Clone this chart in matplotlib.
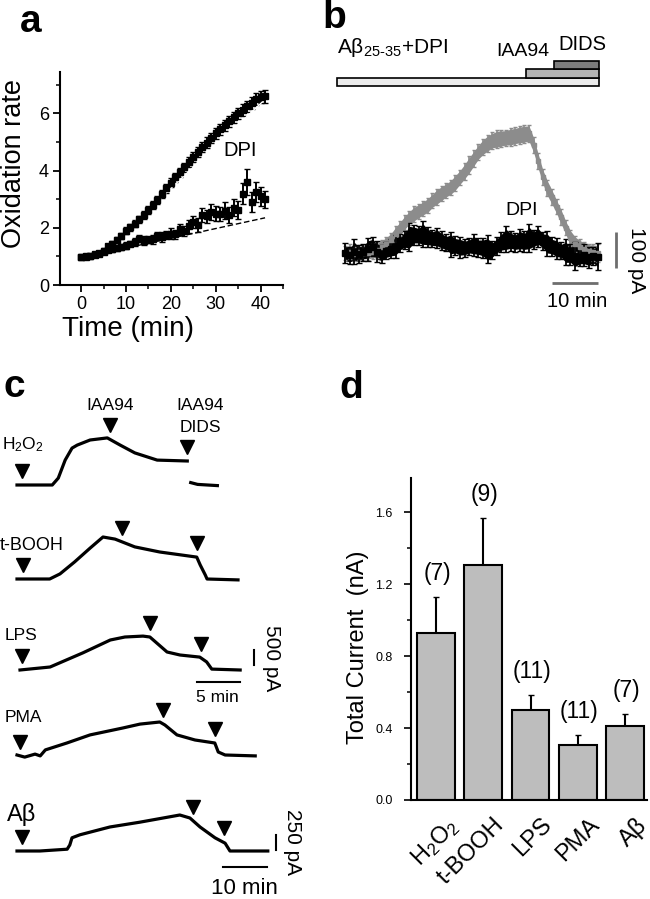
import numpy as np
import matplotlib
matplotlib.use('Agg')
import matplotlib.pyplot as plt
from matplotlib.patches import Rectangle
from matplotlib.ticker import MultipleLocator
from matplotlib.transforms import ScaledTranslation

plt.rcParams['font.family'] = ['Liberation Sans', 'DejaVu Sans']
plt.rcParams['mathtext.fontset'] = 'custom'
plt.rcParams['mathtext.rm'] = 'Liberation Sans'
plt.rcParams['mathtext.it'] = 'Liberation Sans'
plt.rcParams['mathtext.bf'] = 'Liberation Sans:bold'
plt.rcParams['axes.linewidth'] = 1.5

# ---- a: oxidation rate vs time
time_a = [0, 1, 2, 3, 4, 5, 6, 7, 8, 9, 10, 11, 12, 13, 14, 15, 16, 17, 18, 19, 20,
          21, 22, 23, 24, 25, 26, 27, 28, 29, 30, 31, 32, 33, 34, 35, 36, 37, 38, 39, 40, 41]
ox_ctrl = [0.97, 1.0, 1.03, 1.07, 1.12, 1.2, 1.35, 1.45, 1.58, 1.72, 1.9, 2.02, 2.15, 2.3,
           2.45, 2.62, 2.8, 2.98, 3.18, 3.38, 3.58, 3.76, 3.94, 4.12, 4.3, 4.48, 4.65, 4.82,
           4.98, 5.14, 5.3, 5.45, 5.58, 5.72, 5.86, 6.0, 6.12, 6.25, 6.38, 6.5, 6.58, 6.6]
ox_ctrl_err = [0.05, 0.05, 0.06, 0.06, 0.07, 0.08, 0.1, 0.1, 0.1, 0.11, 0.12, 0.12, 0.12,
               0.13, 0.13, 0.13, 0.14, 0.14, 0.14, 0.15, 0.15, 0.15, 0.16, 0.16, 0.16, 0.17,
               0.17, 0.17, 0.18, 0.18, 0.18, 0.19, 0.19, 0.19, 0.2, 0.2, 0.2, 0.2, 0.21, 0.21,
               0.22, 0.22]
ox_dpi = [0.97, 0.98, 1.0, 1.05, 1.08, 1.15, 1.22, 1.25, 1.3, 1.32, 1.38, 1.45, 1.5, 1.62,
          1.55, 1.58, 1.6, 1.72, 1.68, 1.75, 1.8, 1.78, 1.95, 1.9, 2.05, 2.2, 2.1, 2.45, 2.4,
          2.55, 2.5, 2.48, 2.6, 2.45, 2.7, 2.62, 3.2, 3.6, 2.9, 3.25, 3.1, 3.0]
ox_dpi_err = [0.04, 0.05, 0.05, 0.06, 0.07, 0.08, 0.08, 0.09, 0.1, 0.1, 0.12, 0.1, 0.14,
              0.12, 0.15, 0.12, 0.16, 0.14, 0.18, 0.15, 0.2, 0.16, 0.2, 0.18, 0.22, 0.2, 0.24,
              0.25, 0.22, 0.28, 0.25, 0.24, 0.3, 0.28, 0.3, 0.32, 0.38, 0.45, 0.35, 0.35,
              0.32, 0.3]
fit_ctrl_t = [6, 40.5]
fit_ctrl_y = [1.3, 6.42]
fit_dpi_t = [0, 41]
fit_dpi_y = [0.95, 2.35]

# ---- b: whole-cell current, A-beta vs A-beta + DPI
time_b = [0, 1, 2, 3, 4, 5, 6, 7, 8, 9, 10, 11, 12, 13, 14, 15, 16, 17, 18, 19, 20, 21, 22,
          23, 24, 25, 26, 27, 28, 29, 30, 31, 32, 33, 34, 35, 36, 37, 38, 39, 40, 41, 42, 43,
          44, 45, 46, 47, 48, 49, 50, 51, 52, 53, 54, 55]
cur_abeta = [0, 3, -2, 2, 0, 1, 4, 8, 16, 26, 36, 52, 68, 84, 98, 108, 116, 124, 132, 145,
             156, 165, 174, 182, 195, 210, 226, 244, 262, 280, 294, 304, 312, 316, 318, 320,
             322, 325, 328, 330, 332, 300, 255, 212, 180, 155, 128, 100, 70, 42, 26, 17, 10,
             5, 2, 0]
cur_abeta_err = [16, 18, 17, 18, 16, 17, 18, 19, 18, 17, 18, 19, 18, 18, 17, 19, 18, 18, 19,
                 18, 20, 19, 18, 19, 20, 19, 20, 21, 20, 19, 20, 21, 20, 22, 21, 20, 22, 21,
                 22, 22, 21, 20, 20, 19, 20, 19, 18, 19, 18, 20, 19, 18, 19, 18, 20, 21]
cur_dpi = [0, -6, 4, -3, 2, 10, 18, 4, -2, 6, 12, 18, 28, 36, 44, 50, 48, 52, 44, 40, 42, 34,
           28, 24, 20, 16, 14, 18, 22, 16, 14, 10, 8, 20, 30, 38, 34, 30, 36, 32, 42, 38, 46,
           34, 26, 18, 12, 6, 2, -4, -8, -10, -6, -12, -8, -10]
cur_dpi_err = [22, 18, 26, 20, 18, 24, 20, 22, 19, 18, 20, 24, 19, 20, 30, 22, 20, 28, 21, 19,
               22, 20, 18, 26, 20, 22, 19, 18, 24, 20, 22, 30, 20, 19, 22, 28, 21, 20, 24, 22,
               30, 20, 22, 19, 26, 20, 22, 18, 28, 22, 30, 20, 24, 22, 20, 28]
drug_names = ['Aβ$_{25\\text{-}35}$+DPI', 'IAA94', 'DIDS']
drug_start = [-1.7, 39.3, 45.4]
drug_end = [55.2, 55.2, 55.2]
drug_colors = ['#ececec', '#b4b4b4', '#7c7c7c']

# ---- c: example traces (time in min, current in pA)
h2o2_t = [0, 4.1, 4.8, 5.6, 6.4, 7.0, 8.5, 10.5, 12.0, 13.7, 16.3, 19.8]
h2o2_i = [0, 0, 230, 830, 1230, 1330, 1500, 1570, 1330, 1070, 830, 800]
h2o2_after_t = [20.2, 21.0, 23.3]
h2o2_after_i = [80, 20, -20]
h2o2_arrows = [0.6, 10.8, 19.8]

tbooh_t = [0, 3.8, 5.0, 6.7, 8.5, 10.0, 11.4, 13.7, 16.6, 20.9, 21.3, 21.9, 22.1, 25.7]
tbooh_i = [0, 0, 170, 570, 1030, 1400, 1330, 1070, 900, 730, 470, 130, 0, -30]
tbooh_arrows = [0.7, 12.2, 20.9]

lps_t = [0, 3.5, 7.3, 10.5, 12.2, 14.3, 15.1, 17.1, 18.6, 20.9, 21.7, 22.3, 25.6]
lps_i = [0, 100, 570, 1000, 1100, 1130, 1100, 600, 500, 430, 270, 30, 0]
lps_arrows = [0.2, 15.1, 21.0]

pma_t = [0, 0.9, 2.1, 2.7, 3.3, 5.8, 8.5, 12.3, 14.3, 16.6, 17.2, 18.6, 20.7, 23.0, 23.4,
         24.2, 27.7]
pma_i = [0, -70, 30, -30, 170, 400, 670, 900, 1030, 1100, 1000, 670, 500, 400, 100, 0, -30]
pma_arrows = [0.35, 17.0, 23.0]

ab_t = [0, 5.2, 11.4, 12.0, 12.5, 14.3, 21.1, 27.9, 37.0, 39.3, 41.6, 45.0, 47.3, 48.4, 57.0]
ab_i = [0, 0, 30, 100, 220, 270, 400, 480, 600, 550, 400, 220, 130, 0, 0]
ab_arrows = [1.1, 40.0, 47.0]

# ---- d: total current summary
stimuli = ['H$_2$O$_2$', 't-BOOH', 'LPS', 'PMA', 'Aβ']
total_current = [0.93, 1.305, 0.50, 0.304, 0.413]
total_current_sem = [0.20, 0.26, 0.083, 0.057, 0.067]
n_cells = [7, 9, 11, 11, 7]

W, H = 650, 899
fig = plt.figure(figsize=(W / 100, H / 100), dpi=100)


def box(left, top, right, bottom):
    return fig.add_axes([left / W, 1 - bottom / H, (right - left) / W, (bottom - top) / H])


def ftext(x, y, s, **kw):
    fig.text(x / W, 1 - y / H, s, **kw)


# panel letters
for letter, (x, y) in zip('abcd', [(31, 22), (334, 18), (14, 387), (351, 388)]):
    ftext(x, y, letter, fontsize=28, fontweight='bold', ha='center', va='center')

# ---------------- a
ax = box(60, 72, 283, 285)
ax.errorbar(time_a, ox_ctrl, yerr=ox_ctrl_err, fmt='s', ms=5, color='k',
            elinewidth=1.4, capsize=2)
ax.plot(fit_ctrl_t, fit_ctrl_y, color='white', lw=1)
ax.errorbar(time_a, ox_dpi, yerr=ox_dpi_err, fmt='s', ms=5, color='k',
            elinewidth=1.4, capsize=2)
ax.plot(fit_dpi_t, fit_dpi_y, color='k', lw=1, dashes=(4, 2))
ax.set_xlim(-4.7, 45)
ax.set_ylim(0, 7.45)
ax.spines['top'].set_visible(False)
ax.spines['right'].set_visible(False)
ax.set_xticks([0, 10, 20, 30, 40])
ax.set_yticks([0, 2, 4, 6])
ax.xaxis.set_minor_locator(MultipleLocator(5))
ax.yaxis.set_minor_locator(MultipleLocator(1))
ax.tick_params(which='major', direction='out', length=5, width=1.3, labelsize=13, pad=3)
ax.tick_params(which='minor', direction='out', length=3, width=1.1)
ax.set_ylabel('Oxidation rate', fontsize=19.5)
ax.yaxis.set_label_coords(-0.15, 0.57)
ax.set_xlabel('Time (min)', fontsize=20)
ax.xaxis.set_label_coords(0.305, -0.145)
ax.text(35.5, 4.7, 'DPI', fontsize=14.5, ha='center', va='center')

# ---------------- b
x0_b, yb_b, sx_b, sy_b = 345, 253, 4.6, 0.36
axb = box(330, 100, 645, 315)
axb.set_xlim((330 - x0_b) / sx_b, (645 - x0_b) / sx_b)
axb.set_ylim((yb_b - 315) / sy_b, (yb_b - 100) / sy_b)
axb.axis('off')
g = np.array(cur_abeta)
ge = np.array(cur_abeta_err)
axb.fill_between(time_b, g - ge, g + ge, color='#8c8c8c', lw=0)
axb.errorbar(time_b, g, yerr=ge * 1.15, fmt='s', ms=3.5, color='#8c8c8c', elinewidth=1.2,
             capsize=1.5)
k = np.array(cur_dpi)
ke = np.array(cur_dpi_err)
axb.fill_between(time_b, k - ke, k + ke, color='k', lw=0)
axb.errorbar(time_b, k, yerr=ke * 1.3, fmt='s', ms=4, color='k', elinewidth=1.3, capsize=2)
axb.text(38.5, 119, 'DPI', fontsize=14, ha='center', va='center')
# scale bars
axb.plot([45, 55], [-83, -83], color='#6e6e6e', lw=2, solid_capstyle='butt')
axb.text(50.4, -136, '10 min', fontsize=14.5, ha='center', va='center')
axb.plot([58.9, 58.9], [-42, 58], color='#6e6e6e', lw=2, solid_capstyle='butt')
axb.text(63.3, -19, '100 pA', fontsize=15, ha='center', va='center', rotation=-90)

# drug application bars
axd = box(330, 55, 645, 92)
axd.set_xlim(axb.get_xlim())
axd.set_ylim(-0.72, 3.73)
axd.axis('off')
for row, (s, e, c) in enumerate(zip(drug_start, drug_end, drug_colors)):
    axd.add_patch(Rectangle((s, row), e - s, 1, facecolor=c, edgecolor='k', lw=1.2))
axd.text(drug_start[0], 4.6, drug_names[0], fontsize=15, ha='left', va='center')
axd.text(38.7, 4.1, drug_names[1], fontsize=14, ha='center', va='center')
axd.text(51.5, 5.05, drug_names[2], fontsize=14.5, ha='center', va='center')


# ---------------- c
def trace_axes(x0, yb, sx, sy, top, bottom):
    a = box(0, top, 300, bottom)
    a.set_xlim(-x0 / sx, (300 - x0) / sx)
    a.set_ylim((yb - bottom) / sy, (yb - top) / sy)
    a.axis('off')
    return a


def draw_trace(a, t, i, arrows, sy):
    a.plot(t, i, color='k', lw=2.3, solid_joinstyle='round')
    ya = np.interp(arrows, t, i) + 14 / sy
    a.plot(arrows, ya, 'v', color='k', ms=10, clip_on=False)


sx_c, sy_c = 8.6, 0.03
a1 = trace_axes(17, 485, sx_c, sy_c, 420, 495)
draw_trace(a1, h2o2_t, h2o2_i, h2o2_arrows, sy_c)
a1.plot(h2o2_after_t, h2o2_after_i, color='k', lw=2.3)

a2 = trace_axes(17, 579, sx_c, sy_c, 505, 590)
draw_trace(a2, tbooh_t, tbooh_i, tbooh_arrows, sy_c)

a3 = trace_axes(20, 670, sx_c, sy_c, 595, 705)
draw_trace(a3, lps_t, lps_i, lps_arrows, sy_c)
a3.plot([20.6, 25.6], [-400, -400], color='k', lw=1.5, clip_on=False)
a3.text(23.0, -933, '5 min', fontsize=12.5, ha='center', va='center')
a3.plot([27.2, 27.2], [167, 667], color='k', lw=1.5, clip_on=False)
a3.text(29.3, 400, '500 pA', fontsize=15, ha='center', va='center', rotation=-90)

a4 = trace_axes(17, 755, sx_c, sy_c, 690, 765)
draw_trace(a4, pma_t, pma_i, pma_arrows, sy_c)

sx_ab, sy_ab = 4.4, 0.06
a5 = trace_axes(17, 851, sx_ab, sy_ab, 780, 899)
draw_trace(a5, ab_t, ab_i, ab_arrows, sy_ab)
a5.plot([46.8, 56.8], [-267, -267], color='k', lw=1.5, clip_on=False)
a5.text(51.8, -617, '10 min', fontsize=16, ha='center', va='center')
a5.plot([58.9, 58.9], [17, 267], color='k', lw=1.5, clip_on=False)
a5.text(62.7, 150, '250 pA', fontsize=15, ha='center', va='center', rotation=-90)

ftext(2, 445, 'H$_2$O$_2$', fontsize=12.5, ha='left', va='center')
ftext(0, 545, 't-BOOH', fontsize=13, ha='left', va='center')
ftext(5, 635, 'LPS', fontsize=12.5, ha='left', va='center')
ftext(5, 718, 'PMA', fontsize=12.5, ha='left', va='center')
ftext(7, 815, 'Aβ', fontsize=17, ha='left', va='center')
ftext(110, 405, 'IAA94', fontsize=12.5, ha='center', va='center')
ftext(200, 405, 'IAA94', fontsize=12.5, ha='center', va='center')
ftext(200, 428, 'DIDS', fontsize=12.5, ha='center', va='center')

# ---------------- d
ax4 = box(410.7, 478, 647, 800)
xpos = np.arange(len(stimuli))
ax4.bar(xpos, total_current, 0.8, color='#bdbdbd', edgecolor='k', lw=1.5, zorder=2)
ax4.errorbar(xpos, total_current, yerr=[np.zeros(len(xpos)), total_current_sem], fmt='none',
             ecolor='k', elinewidth=1.5, capsize=2.5, zorder=1)
for xi, v, e, n in zip(xpos, total_current, total_current_sem, n_cells):
    ax4.annotate(f'({n})', (xi, v + e), xytext=(1, 17), textcoords='offset points',
                 ha='center', va='center', fontsize=16.5)
ax4.set_xlim(-0.53, 4.46)
ax4.set_ylim(0, 1.79)
ax4.spines['top'].set_visible(False)
ax4.spines['right'].set_visible(False)
ax4.set_yticks([0, 0.4, 0.8, 1.2, 1.6])
ax4.set_yticklabels(['0.0', '0.4', '0.8', '1.2', '1.6'],
                    fontfamily=['Liberation Sans Narrow', 'Liberation Sans'], fontsize=9)
ax4.yaxis.set_minor_locator(MultipleLocator(0.2))
ax4.tick_params(axis='y', which='major', direction='out', length=5, width=1.2, pad=8)
ax4.tick_params(axis='y', which='minor', direction='out', length=3, width=1.1)
ax4.set_xticks(xpos)
ax4.set_xticklabels(stimuli, rotation=45, ha='right', va='top', rotation_mode='anchor',
                    fontsize=17)
ax4.tick_params(axis='x', length=0, pad=10)
shift = ScaledTranslation(10 / 100, 0, fig.dpi_scale_trans)
for lab in ax4.get_xticklabels():
    lab.set_transform(lab.get_transform() + shift)
ax4.set_ylabel('Total Current  (nA)', fontsize=17)
ax4.yaxis.set_label_coords(-0.175, 0.475)

fig.savefig('out.png', dpi=100)
